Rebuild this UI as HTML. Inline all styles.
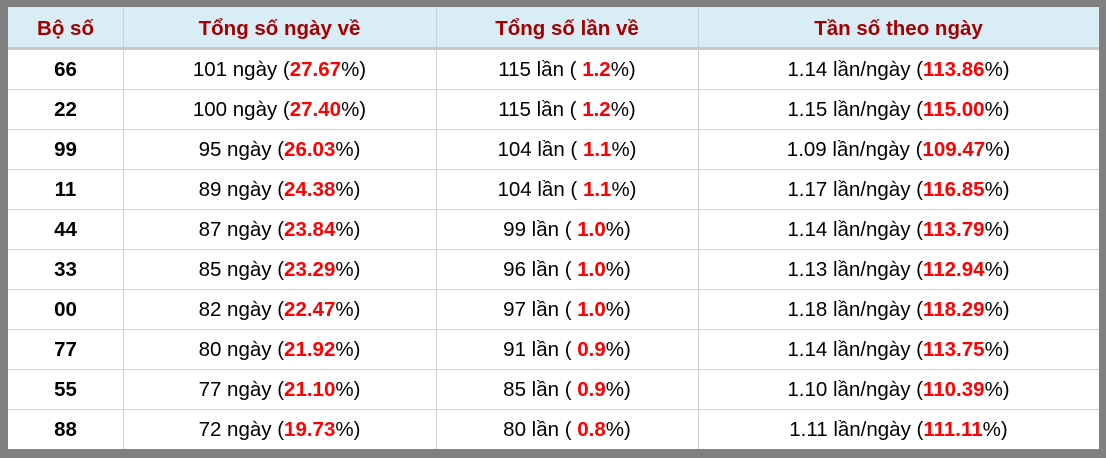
<!DOCTYPE html>
<html><head><meta charset="utf-8"><style>
*{margin:0;padding:0;box-sizing:border-box}
body{width:1106px;height:458px;background:#808080;position:relative;overflow:hidden;font-family:"Liberation Sans",Arial,sans-serif}
#w{position:absolute;left:8px;top:7px;width:1091px;height:442px;background:#fff}
.hd{position:absolute;left:0;top:0;width:1091px;background:#d9edf7;border-bottom:3px solid #c8c8c8;height:43px}
.row{position:absolute;left:0;width:1091px;height:40px;border-bottom:1px solid #d0d0d0}
.c{position:absolute;top:0;text-align:center;font-size:20.5px;line-height:39px;color:#000;white-space:nowrap}
.hd .c{color:#a40000;font-weight:bold;line-height:40px;top:1.5px}
.c1{left:0;width:115px}
.c2{left:115px;width:313px}
.c3{left:428px;width:262px}
.c4{left:690px;width:401px}
.b{font-weight:bold}
.r{color:#ff0000;font-weight:bold}
.v{position:absolute;top:0;width:1px;height:442px;background:#cfcfcf}
</style></head><body>
<div id="w">
<div class="hd"><div class="c c1">Bộ số</div><div class="c c2">Tổng số ngày về</div><div class="c c3">Tổng số lần về</div><div class="c c4">Tần số theo ngày</div></div>

<div class="row" style="top:43px"><div class="c c1 b">66</div><div class="c c2">101 ngày (<span class="r">27.67</span>%)</div><div class="c c3">115 lần ( <span class="r">1.2</span>%)</div><div class="c c4">1.14 lần/ngày (<span class="r">113.86</span>%)</div></div>
<div class="row" style="top:83px"><div class="c c1 b">22</div><div class="c c2">100 ngày (<span class="r">27.40</span>%)</div><div class="c c3">115 lần ( <span class="r">1.2</span>%)</div><div class="c c4">1.15 lần/ngày (<span class="r">115.00</span>%)</div></div>
<div class="row" style="top:123px"><div class="c c1 b">99</div><div class="c c2">95 ngày (<span class="r">26.03</span>%)</div><div class="c c3">104 lần ( <span class="r">1.1</span>%)</div><div class="c c4">1.09 lần/ngày (<span class="r">109.47</span>%)</div></div>
<div class="row" style="top:163px"><div class="c c1 b">11</div><div class="c c2">89 ngày (<span class="r">24.38</span>%)</div><div class="c c3">104 lần ( <span class="r">1.1</span>%)</div><div class="c c4">1.17 lần/ngày (<span class="r">116.85</span>%)</div></div>
<div class="row" style="top:203px"><div class="c c1 b">44</div><div class="c c2">87 ngày (<span class="r">23.84</span>%)</div><div class="c c3">99 lần ( <span class="r">1.0</span>%)</div><div class="c c4">1.14 lần/ngày (<span class="r">113.79</span>%)</div></div>
<div class="row" style="top:243px"><div class="c c1 b">33</div><div class="c c2">85 ngày (<span class="r">23.29</span>%)</div><div class="c c3">96 lần ( <span class="r">1.0</span>%)</div><div class="c c4">1.13 lần/ngày (<span class="r">112.94</span>%)</div></div>
<div class="row" style="top:283px"><div class="c c1 b">00</div><div class="c c2">82 ngày (<span class="r">22.47</span>%)</div><div class="c c3">97 lần ( <span class="r">1.0</span>%)</div><div class="c c4">1.18 lần/ngày (<span class="r">118.29</span>%)</div></div>
<div class="row" style="top:323px"><div class="c c1 b">77</div><div class="c c2">80 ngày (<span class="r">21.92</span>%)</div><div class="c c3">91 lần ( <span class="r">0.9</span>%)</div><div class="c c4">1.14 lần/ngày (<span class="r">113.75</span>%)</div></div>
<div class="row" style="top:363px"><div class="c c1 b">55</div><div class="c c2">77 ngày (<span class="r">21.10</span>%)</div><div class="c c3">85 lần ( <span class="r">0.9</span>%)</div><div class="c c4">1.10 lần/ngày (<span class="r">110.39</span>%)</div></div>
<div class="row" style="top:403px;border-bottom:none;height:39px"><div class="c c1 b">88</div><div class="c c2">72 ngày (<span class="r">19.73</span>%)</div><div class="c c3">80 lần ( <span class="r">0.8</span>%)</div><div class="c c4">1.11 lần/ngày (<span class="r">111.11</span>%)</div></div>

<div class="v" style="left:115px"></div>
<div class="v" style="left:428px"></div>
<div class="v" style="left:690px"></div>
</div>
</body></html>
